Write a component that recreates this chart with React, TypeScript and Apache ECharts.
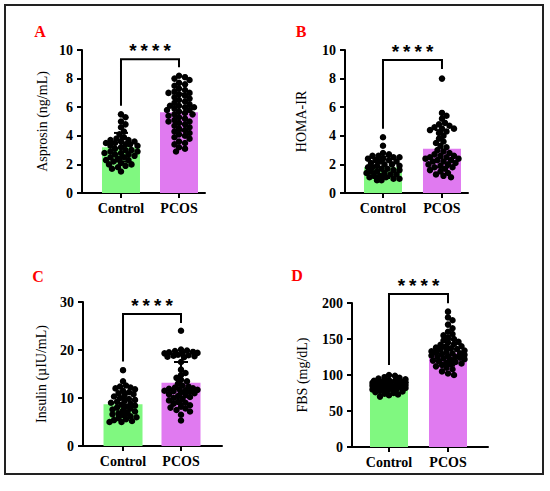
import React, { useEffect, useRef } from "react";
import * as echarts from "echarts";

// ---------- data ----------
const CATEGORIES = ["Control", "PCOS"];

const ASPROSIN_CONTROL = [5.5, 5.3, 5.0, 4.8, 4.6, 4.3, 4.1, 3.9, 3.8, 3.7, 3.7, 3.6, 3.6, 3.5, 3.5, 3.4, 3.4, 3.3, 3.3, 3.2, 3.1, 3.0, 3.0, 2.9, 2.9, 2.8, 2.8, 2.7, 2.7, 2.6, 2.5, 2.5, 2.4, 2.3, 2.3, 2.2, 2.1, 2.0, 2.0, 1.9, 1.8, 1.7, 1.5];
const ASPROSIN_PCOS = [8.2, 8.1, 8.0, 7.9, 7.7, 7.6, 7.5, 7.3, 7.2, 7.1, 7.0, 7.0, 6.9, 6.8, 6.7, 6.6, 6.5, 6.4, 6.3, 6.2, 6.1, 6.1, 6.0, 6.0, 5.9, 5.8, 5.8, 5.7, 5.6, 5.5, 5.5, 5.4, 5.3, 5.2, 5.1, 5.0, 5.0, 4.9, 4.8, 4.7, 4.6, 4.5, 4.4, 4.3, 4.2, 4.1, 4.0, 3.9, 3.8, 3.6, 3.5, 3.4, 3.2, 3.1, 2.9];
const ASPROSIN_MEAN = [3.2, 5.65];
const ASPROSIN_SD = [1.0, 1.3];
const ASPROSIN_BRACKET = [6.1, 8.8, 9.35]; // left leg end, right leg end, top

const HOMA_CONTROL = [3.9, 3.3, 2.8, 2.7, 2.6, 2.6, 2.5, 2.5, 2.4, 2.4, 2.3, 2.3, 2.2, 2.2, 2.1, 2.0, 2.0, 1.9, 1.9, 1.8, 1.8, 1.7, 1.7, 1.6, 1.6, 1.5, 1.5, 1.4, 1.4, 1.3, 1.3, 1.2, 1.2, 1.1, 1.1, 1.0, 1.0, 0.9, 0.9];
const HOMA_PCOS = [8.0, 5.6, 5.4, 5.2, 4.9, 4.8, 4.7, 4.6, 4.5, 4.5, 4.4, 4.3, 4.2, 4.0, 3.8, 3.6, 3.5, 3.3, 3.2, 3.0, 2.9, 2.8, 2.7, 2.6, 2.6, 2.5, 2.5, 2.4, 2.4, 2.3, 2.3, 2.2, 2.2, 2.1, 2.0, 2.0, 1.9, 1.8, 1.8, 1.7, 1.6, 1.5, 1.4, 1.3, 1.2, 1.1];
const HOMA_MEAN = [1.8, 3.1];
const HOMA_SD = [0.75, 1.3];
const HOMA_BRACKET = [4.5, 8.67, 9.3];

const INSULIN_CONTROL = [15.8, 13.5, 12.6, 12.4, 12.2, 12.0, 11.8, 11.5, 11.2, 11.0, 10.8, 10.5, 10.3, 10.0, 9.8, 9.6, 9.4, 9.2, 9.0, 8.8, 8.6, 8.4, 8.2, 8.0, 7.8, 7.6, 7.4, 7.2, 7.0, 6.8, 6.6, 6.4, 6.2, 6.0, 5.8, 5.6, 5.4, 5.2, 5.0, 5.0];
const INSULIN_PCOS = [24.0, 20.1, 19.9, 19.8, 19.6, 19.5, 19.4, 19.3, 19.2, 19.0, 18.9, 18.8, 18.7, 18.6, 18.5, 17.5, 15.9, 15.2, 14.8, 14.2, 13.8, 13.5, 13.0, 12.6, 12.4, 12.2, 12.0, 11.9, 11.8, 11.7, 11.6, 11.5, 11.4, 11.3, 11.2, 11.0, 10.8, 10.6, 10.4, 10.2, 10.0, 9.8, 9.5, 9.2, 9.0, 8.8, 8.5, 8.2, 8.0, 7.8, 7.5, 7.2, 6.5, 5.3];
const INSULIN_MEAN = [8.7, 13.2];
const INSULIN_SD = [2.4, 4.3];
const INSULIN_BRACKET = [17.6, 25.6, 27.5];

const FBS_CONTROL = [100, 99, 97, 96, 95, 94, 93, 92, 92, 91, 91, 90, 90, 89, 89, 88, 88, 87, 87, 86, 86, 85, 85, 84, 84, 83, 83, 82, 82, 81, 80, 80, 79, 78, 77, 76, 75, 74, 73, 72, 70];
const FBS_PCOS = [188, 180, 176, 170, 165, 160, 157, 155, 152, 150, 148, 146, 145, 143, 142, 140, 139, 138, 137, 136, 135, 134, 133, 132, 131, 130, 130, 129, 128, 127, 126, 125, 125, 124, 123, 122, 121, 120, 119, 118, 117, 116, 115, 114, 112, 110, 108, 105, 102, 100];
const FBS_MEAN = [85, 131];
const FBS_SD = [7, 18];
const FBS_BRACKET = [114, 199.6, 212.5];

const PANEL_LETTERS = ["A", "B", "C", "D"];
const Y_TITLES = ["Asprosin (ng/mL)", "HOMA-IR", "Insulin (\u00b5IU/mL)", "FBS (mg/dL)"];
const Y_MAX = [10, 10, 30, 200];
const Y_INTERVAL = [2, 2, 10, 50];
const SIGNIFICANCE = ["****", "****", "****", "****"];

// ---------- layout ----------
const GREEN = "#80f880";
const VIOLET = "#e07af0";
const SERIF = "Liberation Serif";

const LAYOUT = [
  { left: 82, top: 50, width: 123, height: 143, xMin: -0.672, xMax: 1.448, unit: 58, barW: 38, nameGap: 33, lx: 40, ly: 31 },
  { left: 345, top: 50, width: 123, height: 143, xMin: -0.644, xMax: 1.441, unit: 59, barW: 38, nameGap: 37, lx: 301, ly: 31 },
  { left: 83, top: 302, width: 139, height: 144, xMin: -0.69, xMax: 1.707, unit: 58, barW: 39, nameGap: 35, lx: 38, ly: 276 },
  { left: 352, top: 303, width: 136, height: 144, xMin: -0.627, xMax: 1.678, unit: 59, barW: 38, nameGap: 43, lx: 297, ly: 275 },
];

const PANELS = [
  { groups: [ASPROSIN_CONTROL, ASPROSIN_PCOS], mean: ASPROSIN_MEAN, sd: ASPROSIN_SD, bracket: ASPROSIN_BRACKET },
  { groups: [HOMA_CONTROL, HOMA_PCOS], mean: HOMA_MEAN, sd: HOMA_SD, bracket: HOMA_BRACKET },
  { groups: [INSULIN_CONTROL, INSULIN_PCOS], mean: INSULIN_MEAN, sd: INSULIN_SD, bracket: INSULIN_BRACKET },
  { groups: [FBS_CONTROL, FBS_PCOS], mean: FBS_MEAN, sd: FBS_SD, bracket: FBS_BRACKET },
];

// beeswarm layout: horizontal pixel offsets so dots don't pile up
function swarm(vals: number[], pxPerVal: number, d: number, maxOff: number): number[] {
  const order = vals.map((_, i) => i).sort((a, b) => vals[b] - vals[a]);
  const offs = new Array(vals.length).fill(0);
  const placed: { x: number; y: number }[] = [];
  const step = 1.5;
  for (const i of order) {
    const y = vals[i] * pxPerVal;
    let best = 0;
    let bestOv = Infinity;
    for (let k = 0; ; k++) {
      const dx = k === 0 ? 0 : (k % 2 ? 1 : -1) * Math.ceil(k / 2) * step;
      if (Math.abs(dx) > maxOff) break;
      let ov = 0;
      for (const p of placed) {
        const dist = Math.hypot(p.x - dx, p.y - y);
        if (dist < d) ov += d - dist;
      }
      if (ov === 0) {
        best = dx;
        bestOv = 0;
        break;
      }
      if (ov < bestOv) {
        bestOv = ov;
        best = dx;
      }
    }
    placed.push({ x: best, y });
    offs[i] = best;
  }
  return offs;
}

function buildOption() {
  const grid: any[] = [];
  const xAxis: any[] = [];
  const yAxis: any[] = [];
  const series: any[] = [];
  const graphic: any[] = [
    { type: "rect", shape: { x: 5, y: 5, width: 538, height: 469 }, style: { fill: "none", stroke: "#222", lineWidth: 2 }, z: 100 },
  ];

  PANELS.forEach((p, i) => {
    const L = LAYOUT[i];
    grid.push({ left: L.left, top: L.top, width: L.width, height: L.height, containLabel: false });
    xAxis.push({
      gridIndex: i,
      type: "value",
      min: L.xMin,
      max: L.xMax,
      splitLine: { show: false },
      axisLine: { show: true, onZero: false, lineStyle: { color: "#000", width: 2 } },
      axisTick: { show: true, customValues: [0, 1], length: 5, inside: false, lineStyle: { color: "#000", width: 2 } },
      axisLabel: {
        show: true,
        customValues: [0, 1],
        formatter: (v: number) => CATEGORIES[Math.round(v)] ?? "",
        margin: 8,
        color: "#000",
        fontFamily: SERIF,
        fontWeight: "bold",
        fontSize: 14,
      },
    });
    yAxis.push({
      gridIndex: i,
      type: "value",
      min: 0,
      max: Y_MAX[i],
      interval: Y_INTERVAL[i],
      name: Y_TITLES[i],
      nameLocation: "middle",
      nameRotate: 90,
      nameGap: L.nameGap,
      nameTextStyle: { color: "#000", fontFamily: SERIF, fontSize: 14 },
      splitLine: { show: false },
      axisLine: { show: true, onZero: false, lineStyle: { color: "#000", width: 2 } },
      axisTick: { show: true, length: 5, inside: false, lineStyle: { color: "#000", width: 2 } },
      axisLabel: { margin: 9, color: "#000", fontFamily: SERIF, fontWeight: "bold", fontSize: 14 },
    });

    // bars (means)
    series.push({
      type: "bar",
      xAxisIndex: i,
      yAxisIndex: i,
      barWidth: L.barW,
      z: 1,
      data: p.mean.map((m, g) => ({ value: [g, m], itemStyle: { color: g === 0 ? GREEN : VIOLET } })),
    });

    // SD error bars (drawn beneath the dots)
    series.push({
      type: "custom",
      xAxisIndex: i,
      yAxisIndex: i,
      z: 2,
      encode: { x: 0, y: 1 },
      data: p.mean.map((m, g) => [g, m, p.sd[g]]),
      renderItem: (params: any, api: any) => {
        const x = api.value(0);
        const m = api.value(1);
        const s = api.value(2);
        const top = api.coord([x, m + s]);
        const bot = api.coord([x, m - s]);
        const cw = 7;
        const st = { stroke: "#000", lineWidth: 2 };
        return {
          type: "group",
          children: [
            { type: "line", shape: { x1: top[0], y1: top[1], x2: bot[0], y2: bot[1] }, style: st },
            { type: "line", shape: { x1: top[0] - cw, y1: top[1], x2: top[0] + cw, y2: top[1] }, style: st },
            { type: "line", shape: { x1: bot[0] - cw, y1: bot[1], x2: bot[0] + cw, y2: bot[1] }, style: st },
          ],
        };
      },
    });

    // individual points
    const pxPerVal = L.height / Y_MAX[i];
    const pts: number[][] = [];
    p.groups.forEach((vals, g) => {
      const offs = swarm(vals, pxPerVal, 4.8, L.barW / 2 - 2);
      vals.forEach((v, k) => pts.push([g + offs[k] / L.unit, v]));
    });
    series.push({
      type: "scatter",
      xAxisIndex: i,
      yAxisIndex: i,
      symbol: "circle",
      symbolSize: 6.5,
      itemStyle: { color: "#000", opacity: 1 },
      z: 3,
      data: pts,
    });

    // significance bracket
    series.push({
      type: "custom",
      xAxisIndex: i,
      yAxisIndex: i,
      z: 5,
      clip: false,
      encode: { x: 0, y: 1 },
      data: [[0, p.bracket[0], p.bracket[1], p.bracket[2]]],
      renderItem: (params: any, api: any) => {
        const a = api.coord([0, api.value(1)]);
        const b = api.coord([0, api.value(3)]);
        const c = api.coord([1, api.value(3)]);
        const d = api.coord([1, api.value(2)]);
        return {
          type: "group",
          children: [
            { type: "polyline", shape: { points: [a, b, c, d] }, style: { stroke: "#000", lineWidth: 2, fill: "none" } },
            {
              type: "text",
              style: {
                text: SIGNIFICANCE[i],
                x: (b[0] + c[0]) / 2,
                y: b[1] - 7,
                align: "center",
                verticalAlign: "middle",
                fill: "#000",
                fontSize: 19,
                fontWeight: "bold",
                fontFamily: "Liberation Mono",
              },
            },
          ],
        };
      },
    });

    graphic.push({
      type: "text",
      x: L.lx,
      y: L.ly,
      style: {
        text: PANEL_LETTERS[i],
        fill: "#ff0000",
        fontSize: 16,
        fontWeight: "bold",
        fontFamily: SERIF,
        align: "center",
        verticalAlign: "middle",
      },
    });
  });

  return { animation: false, backgroundColor: "#fff", grid, xAxis, yAxis, series, graphic };
}

export default function App() {
  const ref = useRef<HTMLDivElement>(null);
  useEffect(() => {
    if (!ref.current) return;
    const chart = echarts.init(ref.current, undefined, { renderer: "svg" });
    chart.setOption(buildOption() as any);
    return () => chart.dispose();
  }, []);
  return <div ref={ref} style={{ position: "absolute", left: 0, top: 0, width: 550, height: 491 }} />;
}
